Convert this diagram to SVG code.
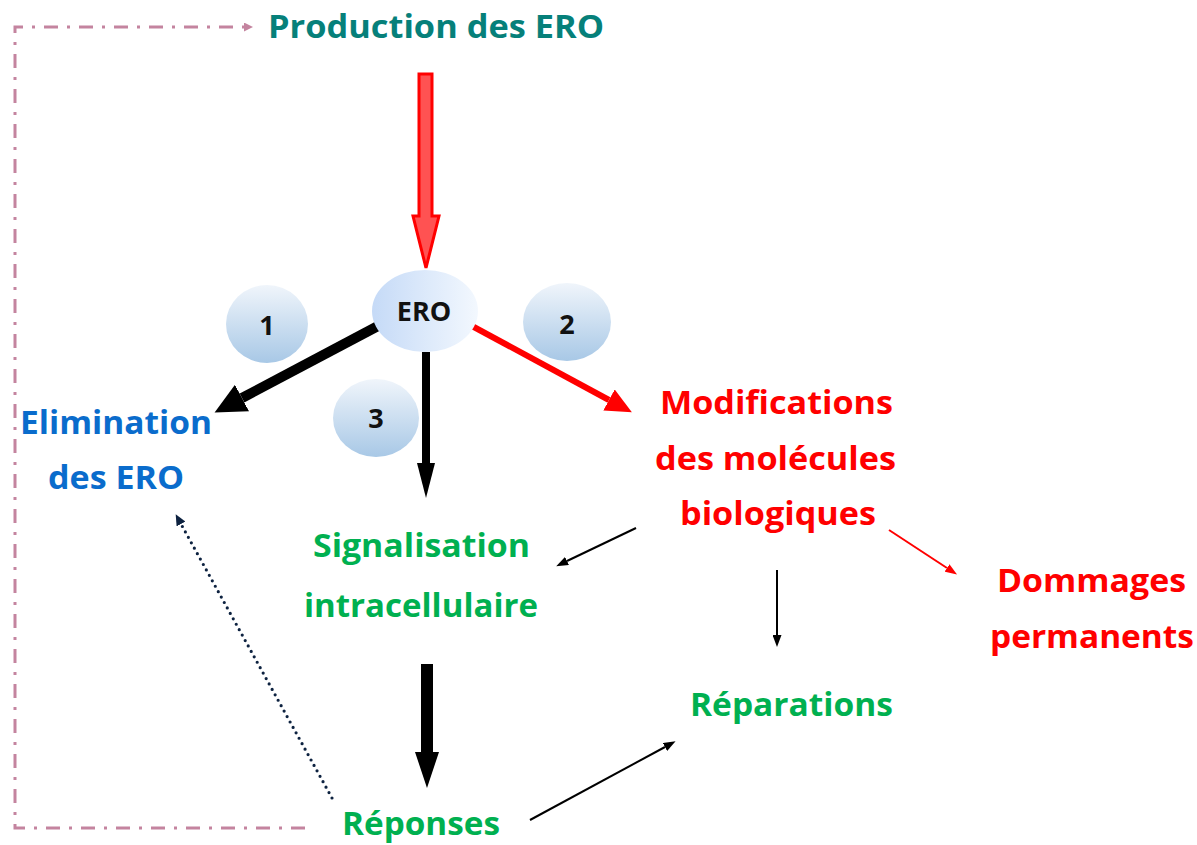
<svg xmlns="http://www.w3.org/2000/svg" width="1197" height="845" viewBox="0 0 1197 845">
<style>
.t{font-family:"Open Sans","Noto Sans","Liberation Sans",sans-serif;font-weight:700;font-size:33px}
.teal{fill:#06807a}.blue{fill:#0a6ccc}.green{fill:#00b050}.red{fill:#ff0000}
.n{font-family:"Open Sans","Noto Sans","Liberation Sans",sans-serif;font-weight:700;font-size:27px;fill:#111;text-anchor:middle}
.thin{stroke:#000;stroke-width:2;fill:none}
</style>
<defs>
<linearGradient id="gEro" x1="0" y1="0" x2="1" y2="0"><stop offset="0" stop-color="#c5daf7"/><stop offset="1" stop-color="#f3f8fe"/></linearGradient>
<linearGradient id="gNum" x1="0" y1="0" x2="0" y2="1"><stop offset="0" stop-color="#f0f5fb"/><stop offset="1" stop-color="#a8c8e6"/></linearGradient>
<marker id="hBig" markerUnits="userSpaceOnUse" markerWidth="32" markerHeight="30" refX="0" refY="15" orient="auto"><path d="M0,0 L31,15 L0,30 Z" fill="#000"/></marker>
<marker id="hRed" markerUnits="userSpaceOnUse" markerWidth="27" markerHeight="24" refX="0" refY="12" orient="auto"><path d="M0,0 L26,12 L0,24 Z" fill="#ff0000"/></marker>
<marker id="hDown" markerUnits="userSpaceOnUse" markerWidth="36" markerHeight="18" refX="0" refY="9" orient="auto"><path d="M0,0 L35,9 L0,18 Z" fill="#000"/></marker>
<marker id="hDown2" markerUnits="userSpaceOnUse" markerWidth="37" markerHeight="24" refX="0" refY="12" orient="auto"><path d="M0,0 L36,12 L0,24 Z" fill="#000"/></marker>
<marker id="hThin" markerUnits="userSpaceOnUse" markerWidth="13" markerHeight="9" refX="0" refY="4.5" orient="auto"><path d="M0,0 L12,4.5 L0,9 Z" fill="#000"/></marker>
<marker id="hThinRed" markerUnits="userSpaceOnUse" markerWidth="13" markerHeight="9" refX="0" refY="4.5" orient="auto"><path d="M0,0 L12,4.5 L0,9 Z" fill="#ff0000"/></marker>
<marker id="hDot" markerUnits="userSpaceOnUse" markerWidth="11" markerHeight="10" refX="0" refY="5" orient="auto"><path d="M0,0 L11,5 L0,10 Z" fill="#0d2240"/></marker>
<marker id="hPink" markerUnits="userSpaceOnUse" markerWidth="9" markerHeight="9" refX="0" refY="4.5" orient="auto"><path d="M0,0 L9,4.5 L0,9 Z" fill="#c4849f"/></marker>
</defs>
<rect width="1197" height="845" fill="#fff"/>

<g id="connectors">
<path d="M305,828 L15,828 L15,27 L244,27" fill="none" stroke="#c4849f" stroke-width="3" stroke-dasharray="14 9 3 9" marker-end="url(#hPink)"/>
<polygon points="419,74 432,74 432,216 439,216 426,268 413,216 419,216" fill="#ff5252" stroke="#ff0000" stroke-width="3" stroke-linejoin="miter"/>
<line x1="378" y1="326" x2="242" y2="398" stroke="#000" stroke-width="10" marker-end="url(#hBig)"/>
<line x1="472" y1="326" x2="609" y2="400" stroke="#ff0000" stroke-width="6" marker-end="url(#hRed)"/>
<line x1="426" y1="352" x2="426" y2="463" stroke="#000" stroke-width="8" marker-end="url(#hDown)"/>
<line x1="427" y1="664" x2="427" y2="752" stroke="#000" stroke-width="12" marker-end="url(#hDown2)"/>
<line x1="636" y1="528" x2="567" y2="561" class="thin" marker-end="url(#hThin)"/>
<line x1="777" y1="570" x2="777" y2="635" class="thin" marker-end="url(#hThin)"/>
<line x1="889" y1="530" x2="947" y2="568" stroke="#ff0000" stroke-width="2" marker-end="url(#hThinRed)"/>
<line x1="530" y1="820" x2="665" y2="747" class="thin" marker-end="url(#hThin)"/>
<line x1="332" y1="798" x2="181" y2="524" stroke="#0d2240" stroke-width="3.2" stroke-linecap="round" stroke-dasharray="0 6.2" marker-end="url(#hDot)"/>
</g>

<g id="n-production"><text class="t teal" x="268" y="38" textLength="336" lengthAdjust="spacingAndGlyphs">Production des ERO</text></g>

<g id="n-ero">
<ellipse cx="425" cy="311" rx="53" ry="41" fill="url(#gEro)"/>
<text class="n" x="424" y="321" font-size="28">ERO</text>
</g>
<g id="n-1"><ellipse cx="267" cy="324" rx="41" ry="39" fill="url(#gNum)"/><text class="n" x="267" y="335">1</text></g>
<g id="n-2"><ellipse cx="567" cy="322" rx="44" ry="39" fill="url(#gNum)"/><text class="n" x="567" y="334">2</text></g>
<g id="n-3"><ellipse cx="376" cy="418" rx="43" ry="39" fill="url(#gNum)"/><text class="n" x="376" y="428">3</text></g>

<g id="n-elimination">
<text class="t blue" x="20" y="434" textLength="192" lengthAdjust="spacingAndGlyphs">Elimination</text>
<text class="t blue" x="48" y="489" textLength="136" lengthAdjust="spacingAndGlyphs">des ERO</text>
</g>
<g id="n-modifications">
<text class="t red" x="660" y="414" textLength="233" lengthAdjust="spacingAndGlyphs">Modifications</text>
<text class="t red" x="655" y="470" textLength="241" lengthAdjust="spacingAndGlyphs">des molécules</text>
<text class="t red" x="680" y="525" textLength="196" lengthAdjust="spacingAndGlyphs">biologiques</text>
</g>
<g id="n-signalisation">
<text class="t green" x="313" y="557" textLength="217" lengthAdjust="spacingAndGlyphs">Signalisation</text>
<text class="t green" x="304" y="617" textLength="234" lengthAdjust="spacingAndGlyphs">intracellulaire</text>
</g>
<g id="n-dommages">
<text class="t red" x="997" y="592" textLength="189" lengthAdjust="spacingAndGlyphs">Dommages</text>
<text class="t red" x="990" y="648" textLength="204" lengthAdjust="spacingAndGlyphs">permanents</text>
</g>
<g id="n-reparations"><text class="t green" x="690" y="716" textLength="203" lengthAdjust="spacingAndGlyphs">Réparations</text></g>
<g id="n-reponses"><text class="t green" x="342" y="835" textLength="158" lengthAdjust="spacingAndGlyphs">Réponses</text></g>
</svg>
